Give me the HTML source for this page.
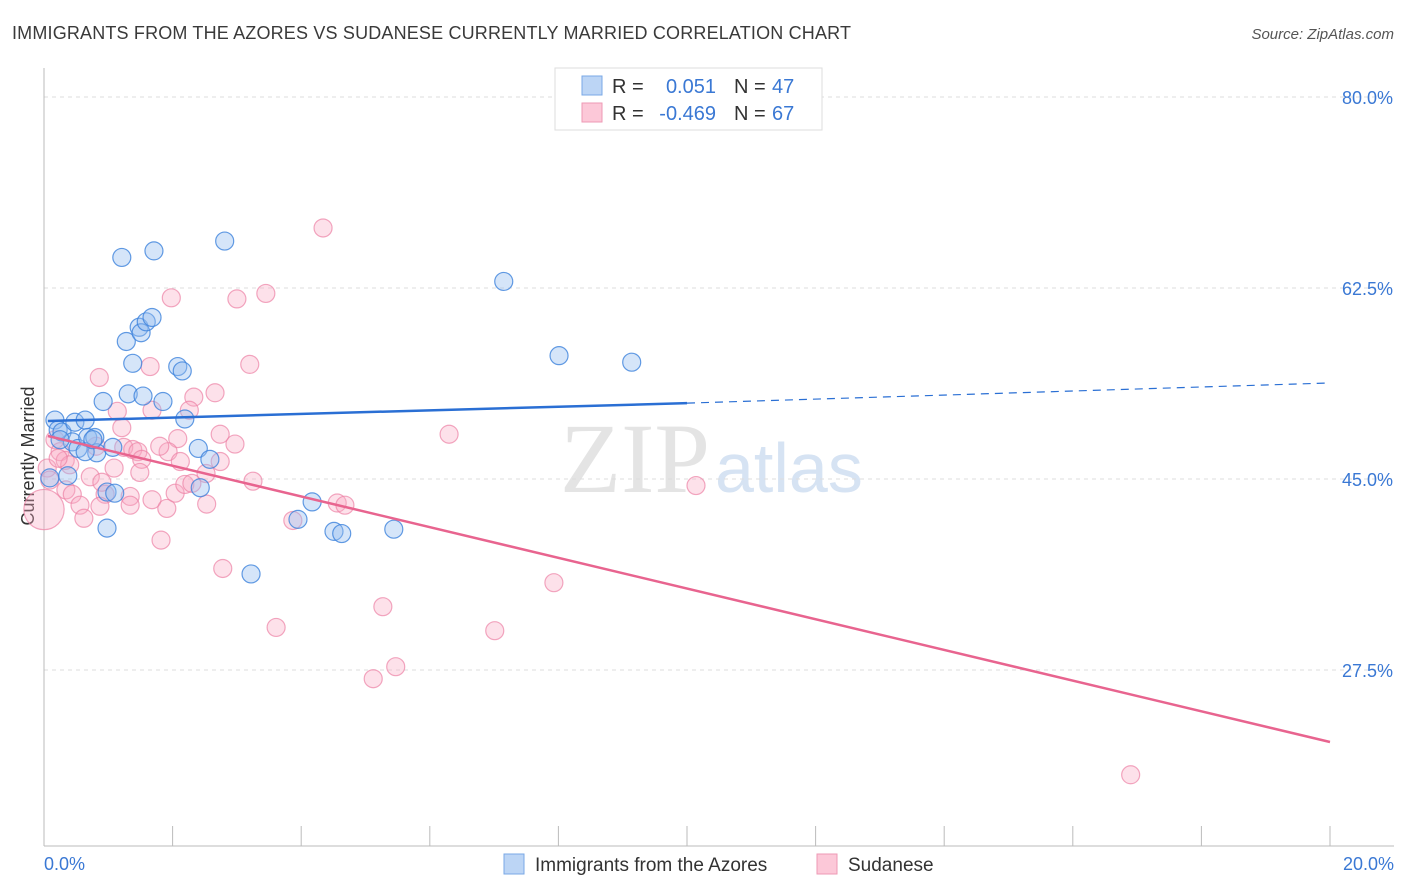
<!DOCTYPE html>
<html><head><meta charset="utf-8"><style>
body{margin:0;background:#fff;font-family:"Liberation Sans",sans-serif}
svg{display:block}
</style></head><body>
<svg id="c" width="1406" height="892">
<text x="12" y="39" font-size="18" fill="#3a3a3a" textLength="839">IMMIGRANTS FROM THE AZORES VS SUDANESE CURRENTLY MARRIED CORRELATION CHART</text>
<text x="1394" y="39" font-size="15" fill="#555" text-anchor="end" font-style="italic">Source: ZipAtlas.com</text>
<text transform="translate(34,456) rotate(-90)" font-size="18" fill="#333" text-anchor="middle">Currently Married</text>
<text x="560" y="492" font-size="100" fill="#e4e4e4" font-family="Liberation Serif,serif">ZIP</text>
<text x="715" y="492" font-size="70" fill="#d6e3f3">atlas</text>
<g id="grid"></g><g id="pts"></g><g id="lines"></g>
<g>
<rect x="555" y="68" width="267" height="62" fill="#fff" stroke="#ddd"/>
<rect x="582" y="76" width="20" height="19" fill="#bcd5f5" stroke="#7aa8e6"/>
<rect x="582" y="103" width="20" height="19" fill="#fcc8d8" stroke="#ee99b4"/>
<text x="612" y="93" font-size="20" fill="#333">R =</text><text x="716" y="93" font-size="20" fill="#3a78d4" text-anchor="end">0.051</text>
<text x="734" y="93" font-size="20" fill="#333">N =</text><text x="772" y="93" font-size="20" fill="#3a78d4">47</text>
<text x="612" y="120" font-size="20" fill="#333">R =</text><text x="716" y="120" font-size="20" fill="#3a78d4" text-anchor="end">-0.469</text>
<text x="734" y="120" font-size="20" fill="#333">N =</text><text x="772" y="120" font-size="20" fill="#3a78d4">67</text>
</g>
<rect x="504" y="854" width="20" height="20" fill="#bcd5f5" stroke="#7aa8e6"/>
<text x="535" y="871" font-size="19" fill="#333">Immigrants from the Azores</text>
<rect x="817" y="854" width="20" height="20" fill="#fcc8d8" stroke="#ee99b4"/>
<text x="848" y="871" font-size="19" fill="#333">Sudanese</text>
</svg>
<script>
const yTicks=[80,62.5,45,27.5];
const yTickLabels=["80.0%","62.5%","45.0%","27.5%"];
const xTickLabels=["0.0%","20.0%"];
const blueX=[.17,.22,.28,.48,.64,.44,.53,.68,.79,.82,.64,.92,.98,1.10,.98,1.28,1.38,1.48,1.51,1.59,1.68,1.31,1.54,1.85,2.08,2.15,2.19,2.40,2.43,2.58,1.21,1.71,2.81,3.22,3.95,4.17,4.51,4.63,5.44,7.15,8.01,9.14,.09,.25,.76,1.07,.37];
const blueY=[50.4,49.5,49.3,50.2,50.4,48.4,47.8,48.8,48.8,47.4,47.5,52.1,43.8,43.7,40.5,57.6,55.6,58.9,58.4,59.4,59.8,52.8,52.6,52.1,55.3,54.9,50.5,47.8,44.2,46.8,65.3,65.9,66.8,36.3,41.3,42.9,40.2,40.0,40.4,63.1,56.3,55.7,45.1,48.6,48.6,47.9,45.3];
const pinkX=[0,4.34,1.98,3.00,3.45,1.65,3.20,.86,1.14,1.68,2.33,2.26,2.66,1.21,2.08,2.74,2.97,6.30,1.24,1.38,1.46,1.52,1.93,2.12,1.09,.72,.17,.25,.33,.40,.05,.09,.34,.44,.56,.62,.95,1.34,1.34,1.68,1.91,2.04,2.19,2.53,2.52,3.25,3.87,4.56,4.68,1.82,2.78,3.61,5.27,5.12,5.47,7.01,7.93,10.14,16.9,.90,.22,.81,1.80,2.30,.87,1.49,2.74];
const pinkY=[42.2,68.0,61.6,61.5,62.0,55.3,55.5,54.3,51.2,51.3,52.5,51.3,52.9,49.7,48.7,49.1,48.2,49.1,47.9,47.7,47.5,46.8,47.5,46.6,46.0,45.2,48.6,47.5,46.7,46.3,46.0,44.9,44.0,43.6,42.6,41.4,43.6,43.4,42.6,43.1,42.3,43.7,44.5,42.7,45.5,44.8,41.2,42.8,42.6,39.4,36.8,31.4,33.3,26.7,27.8,31.1,35.5,44.4,17.9,44.7,46.9,48.0,48.0,44.6,42.5,45.6,46.6];
const pinkWeight=[5];
const blueTrend=[[0.06,50.31],[10,51.95],[20,53.80]];
const pinkTrend=[[0.06,48.94],[20,20.90]];
const X=v=>44+v*64.3, Y=v=>97+(80-v)*10.914;
const NS="http://www.w3.org/2000/svg";
function mk(t,a,p){const e=document.createElementNS(NS,t);for(const k in a)e.setAttribute(k,a[k]);p.appendChild(e);return e;}
const g=document.getElementById('grid'),svg=document.getElementById('c');
yTicks.forEach((v,i)=>{
 const l=mk('line',{x1:44,x2:1394,y1:Y(v),y2:Y(v),stroke:'#ddd','stroke-dasharray':'4,4'},g);
 
 
 const t=mk('text',{x:1393,y:Y(v)+7,'font-size':18,fill:'#3a78d4','text-anchor':'end'},g);t.textContent=yTickLabels[i];
 
 
});
mk('line',{x1:44,x2:44,y1:68,y2:846,stroke:'#bbb'},g);
mk('line',{x1:44,x2:1394,y1:846,y2:846,stroke:'#bbb'},g);
for(let i=0;i<=10;i++){const tk=mk('line',{x1:X(i*2),x2:X(i*2),y1:826,y2:846,stroke:'#bbb'},g);
 
 }
[[0,'start',44],[1,'end',1394]].forEach(([i,a,x])=>{const t=mk('text',{x:x,y:870,'font-size':18,fill:'#3a78d4','text-anchor':a},g);t.textContent=xTickLabels[i];
 
 });
const p=document.getElementById('pts');
pinkX.forEach((x,i)=>{const c=mk('circle',{cx:X(x),cy:Y(pinkY[i]),r:i<pinkWeight.length?9*Math.sqrt(pinkWeight[i]):9,fill:'rgba(248,170,195,0.35)',stroke:'rgba(236,130,165,0.7)','stroke-width':1.2},p);
 
 });
blueX.forEach((x,i)=>{const c=mk('circle',{cx:X(x),cy:Y(blueY[i]),r:9,fill:'rgba(150,190,240,0.4)',stroke:'rgba(60,130,220,0.8)','stroke-width':1.2},p);
 
 });
const L=document.getElementById('lines');
const b1=mk('line',{x1:X(blueTrend[0][0]),y1:Y(blueTrend[0][1]),x2:X(blueTrend[1][0]),y2:Y(blueTrend[1][1]),stroke:'#2a6fd4','stroke-width':2.5},L);


const b2=mk('line',{x1:X(blueTrend[1][0]),y1:Y(blueTrend[1][1]),x2:X(blueTrend[2][0]),y2:Y(blueTrend[2][1]),stroke:'#2a6fd4','stroke-width':1.2,'stroke-dasharray':'8,6'},L);


const p1=mk('line',{x1:X(pinkTrend[0][0]),y1:Y(pinkTrend[0][1]),x2:X(pinkTrend[1][0]),y2:Y(pinkTrend[1][1]),stroke:'#e8648f','stroke-width':2.5},L);


</script>
</body></html>
